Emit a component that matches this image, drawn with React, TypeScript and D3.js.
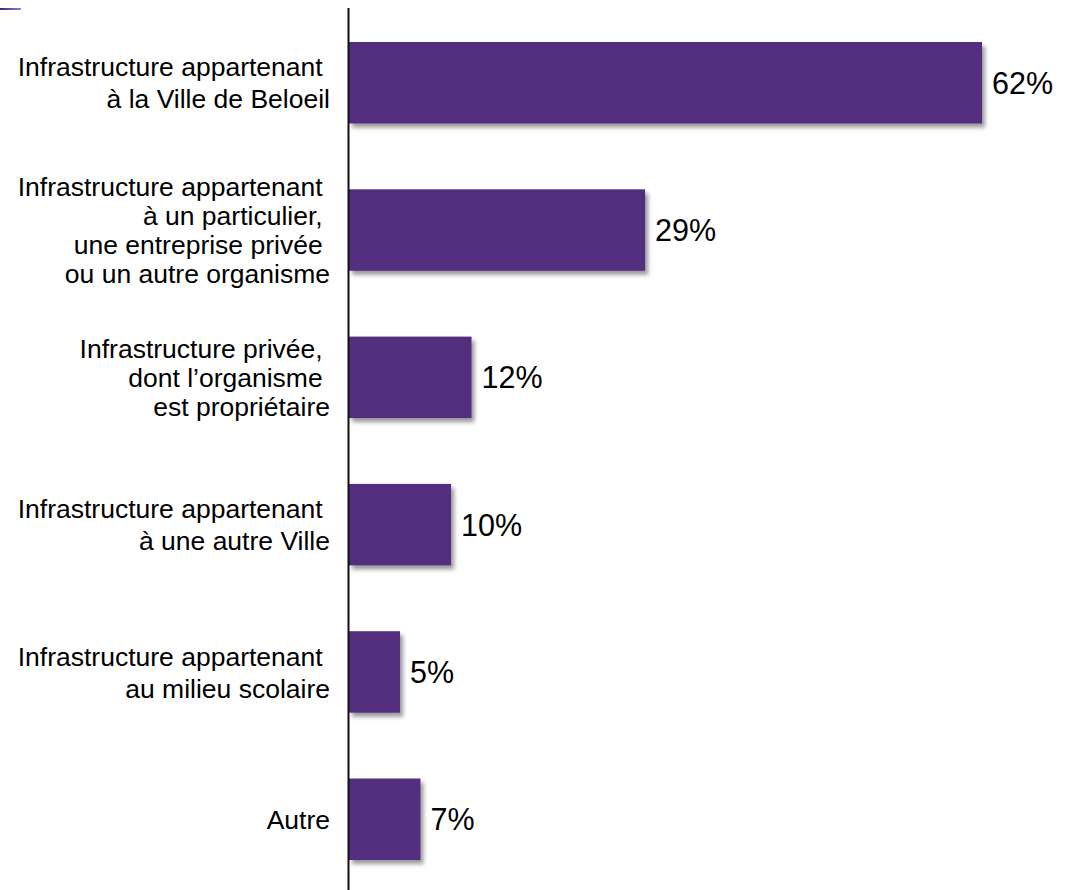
import React from "react";
import * as d3 from "d3";

const categories: string[][] = [
  ["Infrastructure appartenant ", "à la Ville de Beloeil"],
  ["Infrastructure appartenant ", "à un particulier, ", "une entreprise privée ", "ou un autre organisme"],
  ["Infrastructure privée, ", "dont l’organisme ", "est propriétaire"],
  ["Infrastructure appartenant ", "à une autre Ville"],
  ["Infrastructure appartenant ", "au milieu scolaire"],
  ["Autre"],
];
const values: number[] = [62, 29, 12, 10, 5, 7];
const valueLabels: string[] = ["62%", "29%", "12%", "10%", "5%", "7%"];

const W = 1071;
const H = 890;
const BAR = "#522E7E";
const FONT = "'Liberation Sans', Arial, sans-serif";

export default function App() {
  const x = d3.scaleLinear().domain([0, 62]).range([349, 982]);
  const y = d3
    .scaleBand<number>()
    .domain(d3.range(values.length))
    .range([42, 860])
    .paddingInner(0.4467)
    .paddingOuter(0);
  const bw = y.bandwidth();

  return (
    <div style={{ position: "absolute", left: 0, top: 0 }}>
      <svg width={W} height={H} style={{ display: "block", background: "#fff" }}>
        <defs>
          <filter id="shadow" x="-10%" y="-10%" width="130%" height="130%">
            <feDropShadow dx="3" dy="4" stdDeviation="2" floodColor="#000" floodOpacity="0.4" />
          </filter>
          <linearGradient id="topline" x1="0" x2="1" y1="0" y2="0">
            <stop offset="0" stopColor="#3e2176" />
            <stop offset="1" stopColor="#9a80c0" />
          </linearGradient>
        </defs>
        <rect x={0} y={8} width={21} height={2} fill="url(#topline)" />
        {values.map((v, i) => {
          const y0 = y(i) as number;
          const cy = y0 + bw / 2;
          const lines = categories[i];
          const lh = lines.length > 2 ? 29 : 32;
          return (
            <g key={i}>
              <rect
                x={x(0)}
                y={y0}
                width={x(v) - x(0)}
                height={bw}
                fill={BAR}
                filter="url(#shadow)"
              />
              <text
                x={x(v) + 10}
                y={cy + 11}
                fontFamily={FONT}
                fontSize={30.5}
                fill="#000"
              >
                {valueLabels[i]}
              </text>
              <text
                fontFamily={FONT}
                fontSize={26.5}
                fill="#000"
                textAnchor="end"
                style={{ whiteSpace: "pre" }}
              >
                {lines.map((ln, j) => (
                  <tspan
                    key={j}
                    x={330}
                    y={cy + 9.7 + (j - (lines.length - 1) / 2) * lh}
                  >
                    {ln}
                  </tspan>
                ))}
              </text>
            </g>
          );
        })}
        <line x1={348.5} x2={348.5} y1={8} y2={H} stroke="#111" strokeWidth={2} />
      </svg>
    </div>
  );
}
